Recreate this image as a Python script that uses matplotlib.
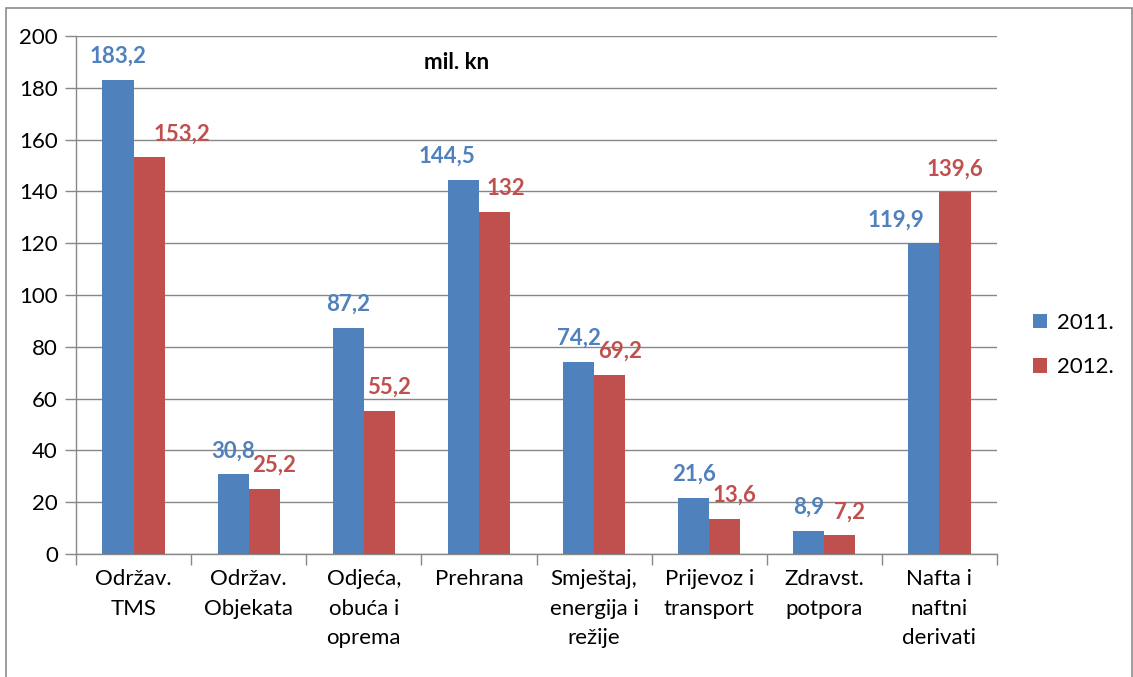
import numpy as np
import matplotlib
matplotlib.use("Agg")
import matplotlib.pyplot as plt
from matplotlib.patches import Rectangle

plt.rcParams["font.family"] = ["Lato", "DejaVu Sans"]

categories = ["Održav.\nTMS", "Održav.\nObjekata", "Odjeća,\nobuća i\noprema",
              "Prehrana", "Smještaj,\nenergija i\nrežije", "Prijevoz i\ntransport",
              "Zdravst.\npotpora", "Nafta i\nnaftni\nderivati"]
vals_2011 = [183.2, 30.8, 87.2, 144.5, 74.2, 21.6, 8.9, 119.9]
vals_2012 = [153.2, 25.2, 55.2, 132, 69.2, 13.6, 7.2, 139.6]
series_names = ["2011.", "2012."]
yticks = [0, 20, 40, 60, 80, 100, 120, 140, 160, 180, 200]

BLUE = "#4F81BD"
RED = "#C0504D"
GRID = "#888888"

# label nudges in pixels (Excel moved a few labels sideways)
nudge_2011 = {3: -16, 7: -28}
nudge_2012 = {0: 33, 3: 11, 7: 0}

fig = plt.figure(figsize=(11.33, 6.77), dpi=100)
ax = fig.add_axes([76 / 1133, 1 - 554 / 677, (997 - 76) / 1133, (554 - 36) / 677])

x = np.arange(len(categories))
w = 0.27
b1 = ax.bar(x - w / 2, vals_2011, w, color=BLUE, label=series_names[0], zorder=3)
b2 = ax.bar(x + w / 2, vals_2012, w, color=RED, label=series_names[1], zorder=3)

def fmt(v):
    s = f"{v:.1f}".replace(".", ",")
    return s[:-2] if s.endswith(",0") else s

for i, (v1, v2) in enumerate(zip(vals_2011, vals_2012)):
    ax.annotate(fmt(v1), (x[i] - w / 2, v1), xytext=(nudge_2011.get(i, 0), 13),
                textcoords="offset pixels", ha="center", va="bottom",
                color=BLUE, fontsize=16, fontweight="bold")
    ax.annotate(fmt(v2), (x[i] + w / 2, v2), xytext=(nudge_2012.get(i, 10), 13),
                textcoords="offset pixels", ha="center", va="bottom",
                color=RED, fontsize=16, fontweight="bold")

ax.set_xlim(-0.5, len(categories) - 0.5)
ax.set_ylim(0, 200)
ax.set_yticks(yticks)
ax.set_xticks(x)
ax.set_xticklabels(categories, fontsize=16, linespacing=1.6)
ax.set_xticks(np.arange(-0.5, len(categories)), minor=True)
ax.tick_params(axis="x", which="major", length=0, pad=11)
ax.tick_params(axis="x", which="minor", length=8, color=GRID, width=1)
ax.tick_params(axis="y", length=8, color=GRID, width=1, labelsize=16, pad=5)
ax.yaxis.grid(True, color=GRID, linewidth=1, zorder=0)
ax.set_axisbelow(True)
for s in ["top", "right"]:
    ax.spines[s].set_visible(False)
for s in ["left", "bottom"]:
    ax.spines[s].set_color(GRID)
    ax.spines[s].set_linewidth(1)

ax.text(0.413, 0.948, "mil. kn", transform=ax.transAxes, ha="center", va="center",
        fontsize=16, fontweight="bold")

fig.legend(handles=[b1, b2], labels=series_names, loc="center left",
           bbox_to_anchor=(1013 / 1133, 1 - 345 / 677), frameon=False,
           fontsize=16, handlelength=0.65, handleheight=0.65, handletextpad=0.45,
           labelspacing=1.1)

fig.patches.append(Rectangle((6 / 1133, -0.05), 1126 / 1133, 1.05 - 8 / 677,
                             transform=fig.transFigure, fill=False,
                             edgecolor="#8c8c8c", linewidth=1.2))

fig.savefig("out.png", dpi=100)
